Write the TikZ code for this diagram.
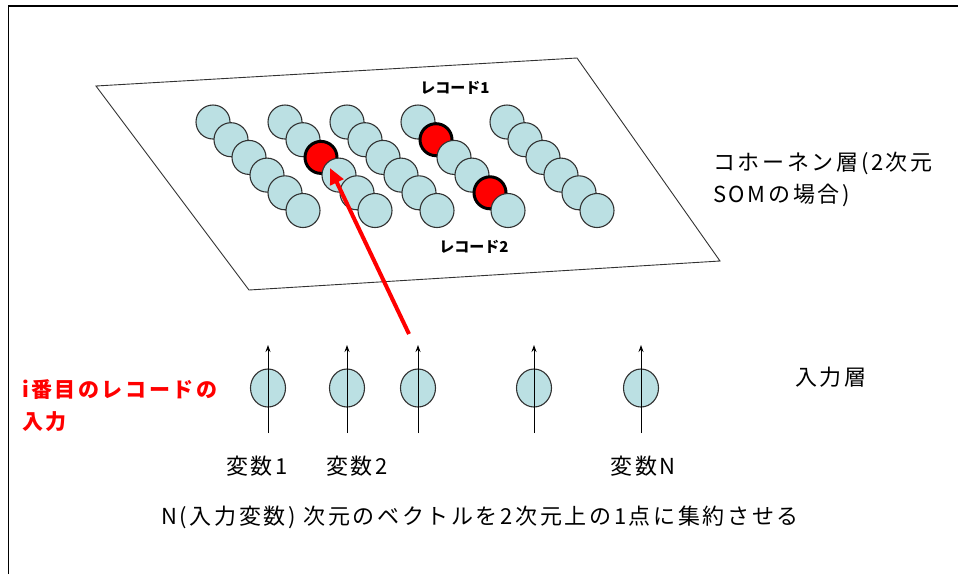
\documentclass[tikz,border=0pt]{standalone}
\usepackage{fontspec}
\setmainfont{Noto Sans CJK JP}
\newfontfamily\jpsp{Noto Sans CJK JP}[LetterSpace=12]
\usetikzlibrary{arrows.meta,shapes.geometric}
\definecolor{som}{RGB}{187,224,227}
\definecolor{edge}{RGB}{50,50,50}
\begin{document}
\begin{tikzpicture}[x=1pt,y=-1pt,
  cell/.style={circle,draw=edge,line width=1.1pt,fill=som,minimum size=34pt,inner sep=0pt},
  hit/.style={circle,draw=black,line width=3pt,fill=red,minimum size=32pt,inner sep=0pt},
  inp/.style={ellipse,draw=edge,line width=1.1pt,fill=som,minimum width=35pt,minimum height=38pt,inner sep=0pt},
  lbl/.style={font=\jpsp\fontsize{22}{26}\selectfont,inner sep=0pt},
  rec/.style={font=\fontsize{15}{17}\selectfont\bfseries,inner sep=0pt},
  redlbl/.style={font=\jpsp\fontsize{21}{25}\selectfont\bfseries,text=red,inner sep=0pt,anchor=west},
  uparrow/.style={draw=black,line width=0.9pt,-{Stealth[length=7pt,width=5pt]}}]
\useasboundingbox (0,0) rectangle (958,574);
% frame
\draw[line width=1.8pt] (8.5,574) -- (8.5,6) -- (958,6);
% plane
\coordinate (p1) at (96,86);
\coordinate (p2) at (577,58);
\coordinate (p3) at (720,261);
\coordinate (p4) at (249,290);
\draw[draw=edge,line width=0.9pt] (p1) -- (p2) -- (p3) -- (p4) -- cycle;
% SOM nodes
\foreach \cc/\xx in {1/213,2/285,3/347,4/418,5/507}{
  \foreach \rr in {0,...,5}{
    \def\st{cell}
    \ifnum\cc\rr=22 \def\st{hit}\fi
    \ifnum\cc\rr=41 \def\st{hit}\fi
    \ifnum\cc\rr=44 \def\st{hit}\fi
    \node[\st] (c\cc\rr) at ({\xx+18*\rr},{122+17.7*\rr}) {};
  }
}
\node[rec] (r1) at (455,88) {レコード1};
\node[rec] (r2) at (474,247) {レコード2};
\node[lbl,anchor=west] (koho) at (713,163) {コホーネン層(2次元};
\node[lbl,anchor=west] (koho2) at (713,195) {SOMの場合)};
% input layer
\foreach \ii/\xx in {1/268,2/347,3/418,4/534,5/641}{
  \node[inp] (i\ii) at (\xx,388) {};
  \coordinate (b\ii) at (\xx,433);
  \coordinate (t\ii) at (\xx,345);
  \draw[uparrow] (b\ii) -- (t\ii);
}
\node[lbl] (inl) at (831,377) {入力層};
\node[redlbl] (red1) at (22,390) {i番目のレコードの};
\node[redlbl] (red2) at (22,422) {入力};
\node[lbl] (v1) at (257,466) {変数1};
\node[lbl] (v2) at (357,466) {変数2};
\node[lbl] (vn) at (643,466) {変数N};
\node[lbl] (summary) at (480,517) {N(入力変数) 次元のベクトルを2次元上の1点に集約させる};
% red arrow
\coordinate (rs) at (409,334);
\coordinate (tip) at (330,168);
\draw[red,line width=4pt,-{Triangle[length=16pt,width=14pt]}] (rs) -- (tip);
\end{tikzpicture}
\end{document}
